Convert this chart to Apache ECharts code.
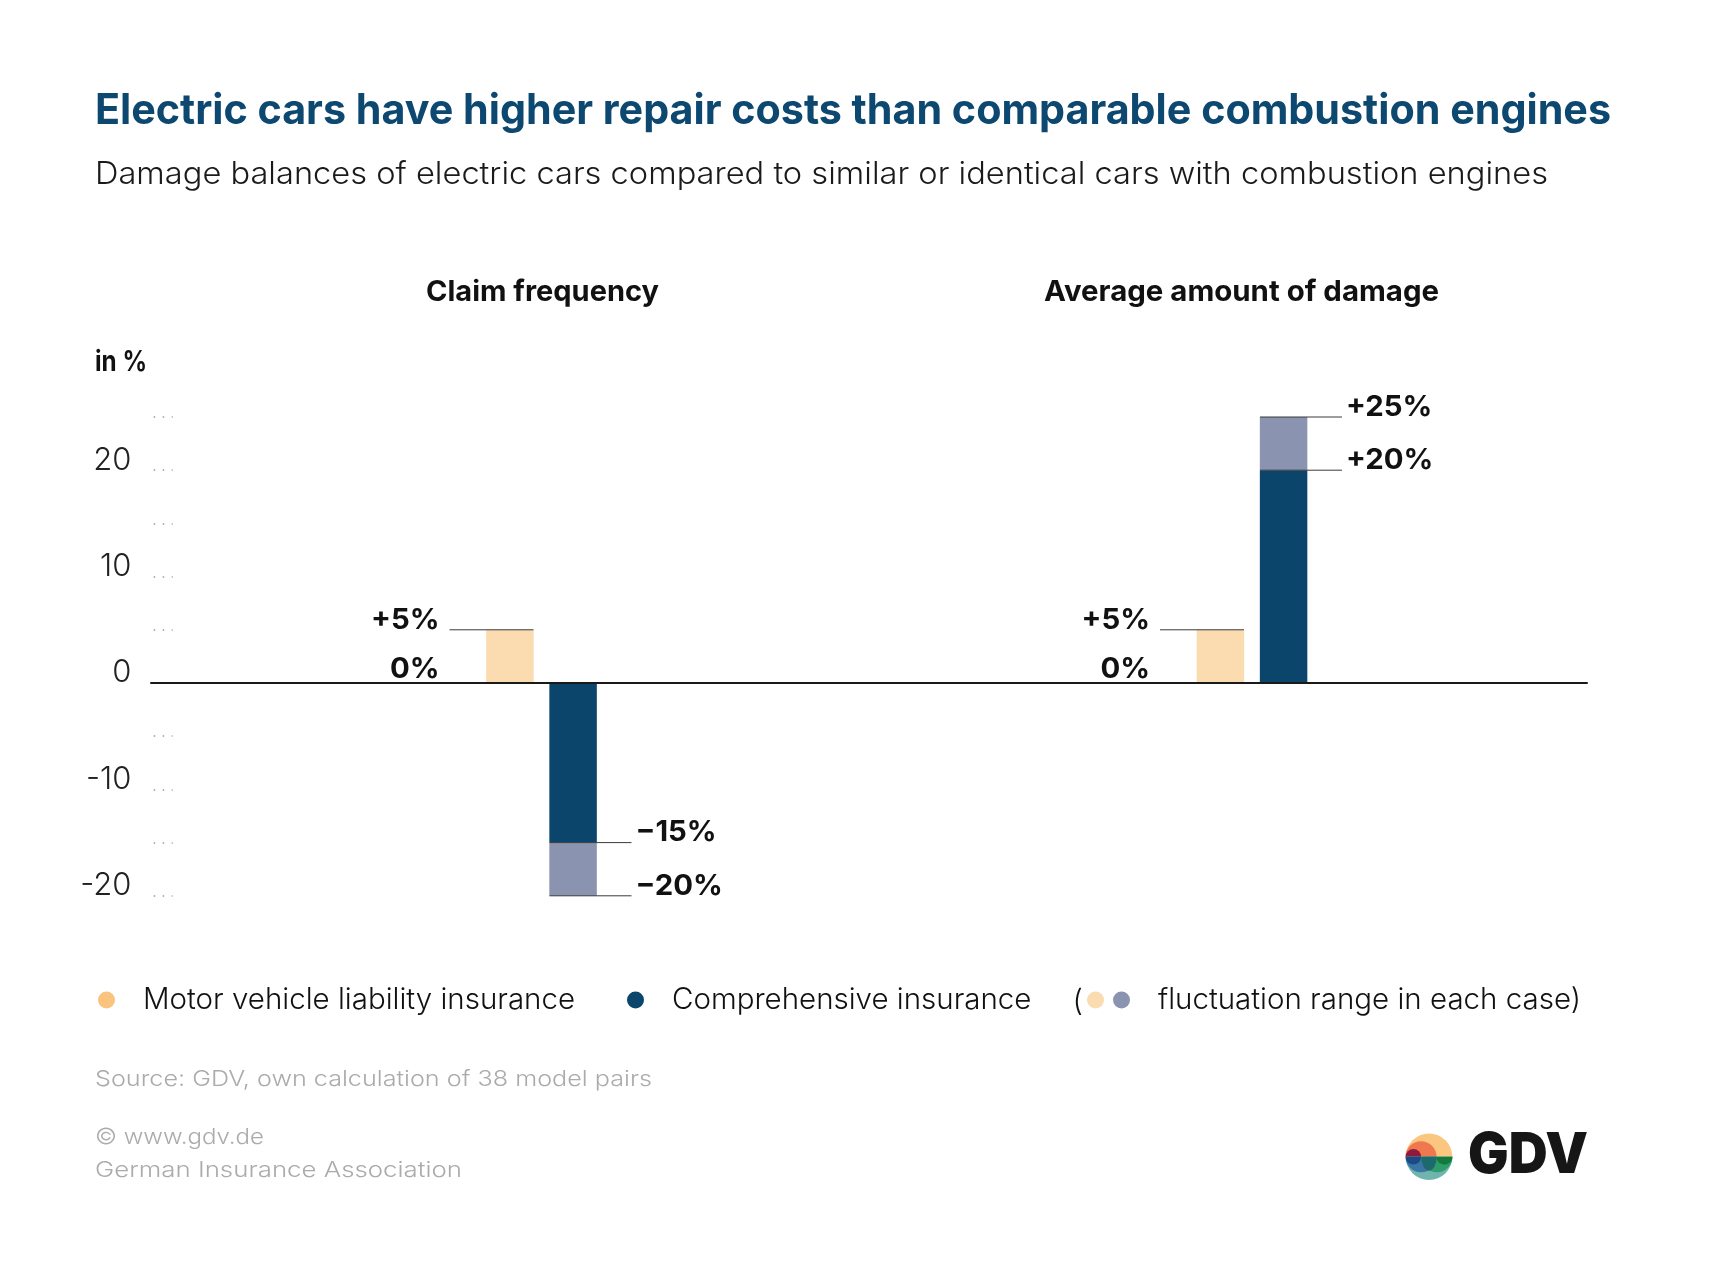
<!DOCTYPE html>
<html>
<head>
<meta charset="utf-8">
<title>Electric cars repair costs</title>
<script src="https://cdn.jsdelivr.net/npm/echarts@6/dist/echarts.min.js"></script>
<style>
  html, body { margin: 0; background: #fff; }
  #chart { width: 1709px; height: 1273px; }
</style>
</head>
<body>
<div id="chart"></div>
<script>
// Values, one entry per panel
const panels = ['Claim frequency', 'Average amount of damage'];
const motorValues = [0, 0];
const motorRange = [5, 5];
const comprehensiveValues = [-15, 20];
const comprehensiveRange = [-5, 5];
const yTicks = [-20, -10, 0, 10, 20];

const FONT = 'Inter, "Liberation Sans", Arial, sans-serif';
const NAVY = '#0B456C';
const GREY_BLUE = '#8A93AF';
const ORANGE = '#FAC37E';
const BEIGE = '#FADCB0';
const TITLE_BLUE = '#0D4870';
const MUTED = '#ABABAB';

const measure = document.createElement('canvas').getContext('2d');

// text placed by its baseline, stretched to the width it has in the original
function textEl(text, x, baseline, size, weight, color, width) {
    measure.font = `${weight} ${size}px ${FONT}`;
    return {
        type: 'text',
        x: x,
        y: baseline - size * 0.3635,
        scaleX: width ? width / measure.measureText(text).width : 1,
        style: {
            text: text,
            fontFamily: FONT,
            fontSize: size,
            fontWeight: weight,
            fill: color,
            align: 'left',
            verticalAlign: 'middle'
        }
    };
}

function halfDisc(cx, cy, r, upper, color) {
    return {
        type: 'sector',
        shape: {
            cx: cx, cy: cy, r: r, r0: 0,
            startAngle: upper ? Math.PI : 0,
            endAngle: upper ? Math.PI * 2 : Math.PI
        },
        style: { fill: color }
    };
}

function logo() {
    const cx = 1429, cy = 1156.7;
    const lens = halfDisc(0, 0, 14, false, '#1C6A6E');
    lens.x = cx;
    lens.y = cy;
    lens.scaleX = 0.55;
    return [
        halfDisc(cx, cy, 23.3, true, '#FBC67F'),
        halfDisc(cx - 8, cy, 15.5, true, '#F0784E'),
        halfDisc(cx - 15.6, cy, 7.7, true, '#8E1B3E'),
        halfDisc(cx, cy, 23.3, false, '#6FB5AE'),
        halfDisc(cx - 8, cy, 15.5, false, '#3B75A3'),
        halfDisc(cx + 8, cy, 15.5, false, '#2E9C6B'),
        lens,
        halfDisc(cx - 15.6, cy, 7.7, false, '#1B4A85'),
        halfDisc(cx + 15.4, cy, 8, false, '#137A3C')
    ];
}

function formatPercent(v) {
    if (v === 0) return '0%';
    return (v > 0 ? '+' : '\u2212') + Math.abs(v) + '%';
}

// leader line and value label next to each bar end
function renderCallout(params, api) {
    const side = api.value(2);
    const value = api.value(1);
    const p = api.coord([api.value(0), value]);
    const children = [];
    if (value !== 0) {
        const from = side < 0 ? p[0] - 92 : p[0] + 8;
        const to = side < 0 ? p[0] - 8 : p[0] + 90;
        children.push({
            type: 'line',
            shape: { x1: from, y1: p[1], x2: to, y2: p[1] },
            style: { stroke: '#3A3A3A', lineWidth: 1 }
        });
    }
    const baseline = value === 0 ? p[1] - 3 : p[1] + 0.5;
    children.push({
        type: 'text',
        x: side < 0 ? p[0] - 102 : p[0] + 94,
        y: baseline - 28.5 * 0.3635,
        scaleX: 1.03,
        style: {
            text: formatPercent(value),
            fontFamily: FONT,
            fontSize: 28.5,
            fontWeight: 'bold',
            fill: '#111',
            align: side < 0 ? 'right' : 'left',
            verticalAlign: 'middle'
        }
    });
    return { type: 'group', children: children };
}

function barSeries(name, values, stack, color, i) {
    return {
        name: name,
        type: 'bar',
        stack: stack + i,
        xAxisIndex: i,
        yAxisIndex: i,
        barWidth: 47.5,
        barGap: '33%',
        itemStyle: { color: color },
        data: [values[i]]
    };
}

const MOTOR_NAME = 'Motor vehicle liability insurance';
const COMP_NAME = 'Comprehensive insurance';
const MOTOR_RANGE_NAME = 'Motor vehicle liability fluctuation range';
const COMP_RANGE_NAME = 'fluctuation range in each case)';

const series = [];
panels.forEach((panel, i) => {
    series.push(barSeries(MOTOR_NAME, motorValues, 'motor', ORANGE, i));
    series.push(barSeries(MOTOR_RANGE_NAME, motorRange, 'motor', BEIGE, i));
    series.push(barSeries(COMP_NAME, comprehensiveValues, 'comp', NAVY, i));
    series.push(barSeries(COMP_RANGE_NAME, comprehensiveRange, 'comp', GREY_BLUE, i));
    const compEnd = comprehensiveValues[i] + comprehensiveRange[i];
    series.push({
        type: 'custom',
        xAxisIndex: i,
        yAxisIndex: i,
        clip: false,
        silent: true,
        z: 5,
        renderItem: renderCallout,
        data: [
            [0, motorValues[i], -1],
            [0, motorValues[i] + motorRange[i], -1],
            [0, comprehensiveValues[i], 1],
            [0, compEnd, 1]
        ]
    });
});

function legendItem(left, name, showText) {
    return {
        left: left,
        top: 985,
        orient: 'horizontal',
        padding: 0,
        selectedMode: false,
        icon: 'circle',
        itemWidth: 17,
        itemHeight: 17,
        data: [name],
        formatter: showText ? '{name}' : () => ' ',
        textStyle: {
            fontFamily: FONT,
            fontSize: 29.5,
            fontWeight: 300,
            color: '#111',
            padding: [4, 0, 0, showText ? 23 : 0]
        }
    };
}

const chart = echarts.init(document.getElementById('chart'));
chart.setOption({
    backgroundColor: '#fff',
    animation: false,
    grid: [
        { left: 151, top: 417, width: 781, height: 478.8 },
        { left: 917, top: 417, width: 670, height: 478.8 }
    ],
    xAxis: panels.map((panel, i) => ({
        type: 'category',
        gridIndex: i,
        data: [panel],
        z: 4,
        axisLine: { onZero: true, lineStyle: { color: '#1a1a1a', width: 2 } },
        axisTick: { show: false },
        axisLabel: { show: false }
    })),
    yAxis: panels.map((panel, i) => ({
        type: 'value',
        gridIndex: i,
        show: i === 0,
        min: -20,
        max: 25,
        interval: 5,
        offset: -2.7,
        z: 1,
        splitLine: { show: false },
        axisLine: { show: false },
        axisTick: {
            show: true,
            inside: true,
            length: 19,
            lineStyle: { color: '#9A9A9A', width: 1.5, type: [1.5, 7.5] }
        },
        axisLabel: {
            margin: 22.3,
            fontFamily: FONT,
            fontSize: 31,
            fontWeight: 300,
            color: '#222',
            lineHeight: 20,
            verticalAlign: 'bottom',
            formatter: v => (yTicks.includes(v) ? String(v) : '')
        }
    })),
    legend: [
        legendItem(98, MOTOR_NAME, true),
        legendItem(627, COMP_NAME, true),
        legendItem(1087, MOTOR_RANGE_NAME, false),
        legendItem(1113, COMP_RANGE_NAME, true)
    ],
    series: series,
    graphic: [
        textEl('Electric cars have higher repair costs than comparable combustion engines', 95, 127, 42, 'bold', TITLE_BLUE, 1516),
        textEl('Damage balances of electric cars compared to similar or identical cars with combustion engines', 95, 186, 31, 300, '#1a1a1a', 1453),
        textEl(panels[0], 426, 303, 29, 'bold', '#111', 233),
        textEl(panels[1], 1044, 303, 29, 'bold', '#111', 395),
        textEl('in %', 95, 372.7, 29, 'bold', '#111', 52),
        textEl('(', 1072.6, 1013, 30, 300, '#111'),
        textEl('Source: GDV, own calculation of 38 model pairs', 95, 1087, 22, 300, MUTED, 557),
        textEl('\u00a9 www.gdv.de', 95, 1145, 22, 300, MUTED, 169),
        textEl('German Insurance Association', 95, 1178, 22, 300, MUTED, 367),
        ...logo(),
        textEl('GDV', 1468, 1177, 57, 900, '#161616', 120)
    ]
});
window.addEventListener('resize', () => chart.resize());
</script>
</body>
</html>
